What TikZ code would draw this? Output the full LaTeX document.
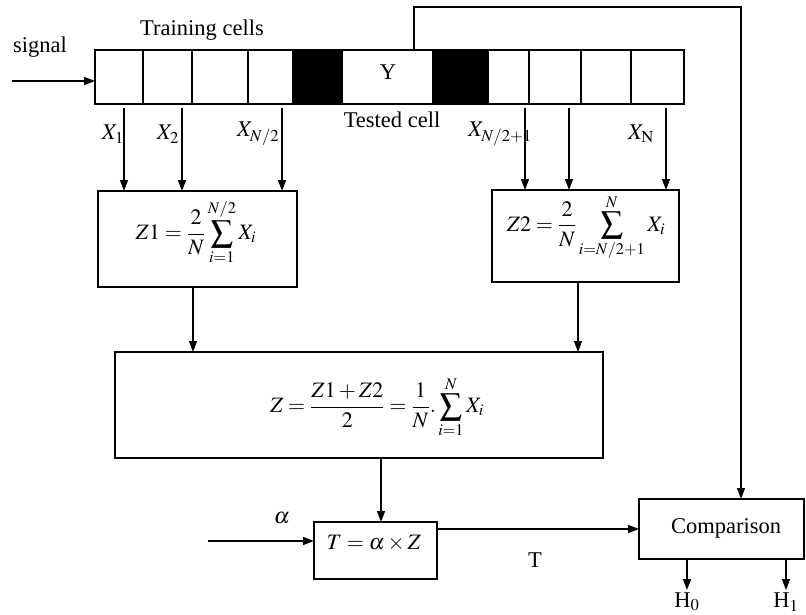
\documentclass[tikz,border=0pt]{standalone}
\usepackage{mathptmx}
\usepackage{fontspec}
\setmainfont{Liberation Serif}
\usetikzlibrary{arrows.meta,calc}
\begin{document}
\begin{tikzpicture}[x=1pt,y=-1pt, line width=1.3pt,
  cell/.style={draw, minimum height=54pt, inner sep=0pt, outer sep=0pt},
  blk/.style={cell, fill=black},
  box/.style={draw, inner sep=0pt, outer sep=0pt},
  arr/.style={-{Triangle[length=11pt,width=8pt]}},
  lbl/.style={font=\fontsize{22.5}{26}\selectfont, inner sep=0pt},
  mth/.style={font=\fontsize{22}{26}\selectfont, inner sep=0pt}]
\useasboundingbox (0,0) rectangle (806,614);
% cells
\node[cell, minimum width=48pt] (c1) at (119,77) {};
\node[cell, minimum width=49pt] (c2) at (167.5,77) {};
\node[cell, minimum width=56pt] (c3) at (220,77) {};
\node[cell, minimum width=45pt] (c4) at (270.5,77) {};
\node[blk, minimum width=49pt] (b1) at (317.5,77) {};
\node[cell, minimum width=91pt] (yc) at (387.5,77) {};
\node[blk, minimum width=55pt] (b2) at (460.5,77) {};
\node[cell, minimum width=41pt] (c5) at (508.5,77) {};
\node[cell, minimum width=52pt] (c6) at (555,77) {};
\node[cell, minimum width=50pt] (c7) at (606,77) {};
\node[cell, minimum width=53pt] (c8) at (657.5,77) {};
\node[lbl] (ylab) at (388,72) {Y};
% texts
\node[lbl] (sig) at (40,47) {signal};
\node[lbl] (tr) at (202,30) {Training cells};
\node[lbl] (tc) at (392,120) {Tested cell};
\node[lbl] (x1) at (113,134) {$X_{\mathrm{1}}$};
\node[lbl] (x2) at (168,134) {$X_{\mathrm{2}}$};
\node[lbl] (xn2) at (258,134) {$X_{N/2}$};
\node[lbl] (xn21) at (500,134) {$X_{N/2+1}$};
\node[lbl] (xn) at (641,134) {$X_{\mathrm{N}}$};
% boxes
\node[box, minimum width=199pt, minimum height=96pt] (z1) at (197.5,239) {};
\node[box, minimum width=187pt, minimum height=92pt] (z2) at (585.5,236) {};
\node[box, minimum width=488pt, minimum height=106pt] (z) at (359,405) {};
\node[box, minimum width=123pt, minimum height=57pt] (tb) at (375.5,550.5) {};
\node[box, minimum width=165pt, minimum height=60pt] (cmp) at (721.5,529) {};
% formulas
\node[mth] (fz1) at (196,232) {$\displaystyle Z1=\frac{2}{N}\sum_{i=1}^{N/2}X_i$};
\node[mth] (fz2) at (586,228) {$\displaystyle Z2=\frac{2}{N}\sum_{i=N/2+1}^{N}X_i$};
\node[mth] (fz) at (377,407) {$\displaystyle Z=\frac{Z1+Z2}{2}=\frac{1}{N}.\sum_{i=1}^{N}X_i$};
\node[mth] (ft) at (374,543) {$T=\alpha\times Z$};
\node[lbl] (al) at (282,518) {$\alpha$};
\node[lbl] (tl) at (535,560) {T};
\node[lbl] (cl) at (726,528) {Comparison};
\node[lbl] (h0) at (687,602) {H$_0$};
\node[lbl] (h1) at (786,602) {H$_1$};
% connectors
\coordinate (sg) at (12,81);
\draw[arr] (sg) -- (sg -| c1.west);
\coordinate (fb) at (741,7);
\draw[arr] ([xshift=72pt]yc.north west) |- (fb) -- (fb |- cmp.north);
\coordinate (s1) at (124,108);
\coordinate (s2) at (182,108);
\coordinate (s3) at (282,108);
\coordinate (s4) at (525,108);
\coordinate (s5) at (569,108);
\coordinate (s6) at (666,108);
\draw[arr] (s1) -- (s1 |- z1.north);
\draw[arr] (s2) -- (s2 |- z1.north);
\draw[arr] (s3) -- (s3 |- z1.north);
\draw[arr] (s4) -- (s4 |- z2.north);
\draw[arr] (s5) -- (s5 |- z2.north);
\draw[arr] (s6) -- (s6 |- z2.north);
\coordinate (d1) at (193,0);
\coordinate (d2) at (578,0);
\coordinate (d3) at (381,0);
\draw[arr] (d1 |- z1.south) -- (d1 |- z.north);
\draw[arr] (d2 |- z2.south) -- (d2 |- z.north);
\draw[arr] (d3 |- z.south) -- (d3 |- tb.north);
\coordinate (as) at (208,541);
\draw[arr] (as) -- (as -| tb.west);
\draw[arr] (tb.east |- cmp.west) -- (cmp.west);
\coordinate (e0) at (687,590);
\coordinate (e1) at (786,590);
\draw[arr] (e0 |- cmp.south) -- (e0);
\draw[arr] (e1 |- cmp.south) -- (e1);
\end{tikzpicture}
\end{document}
